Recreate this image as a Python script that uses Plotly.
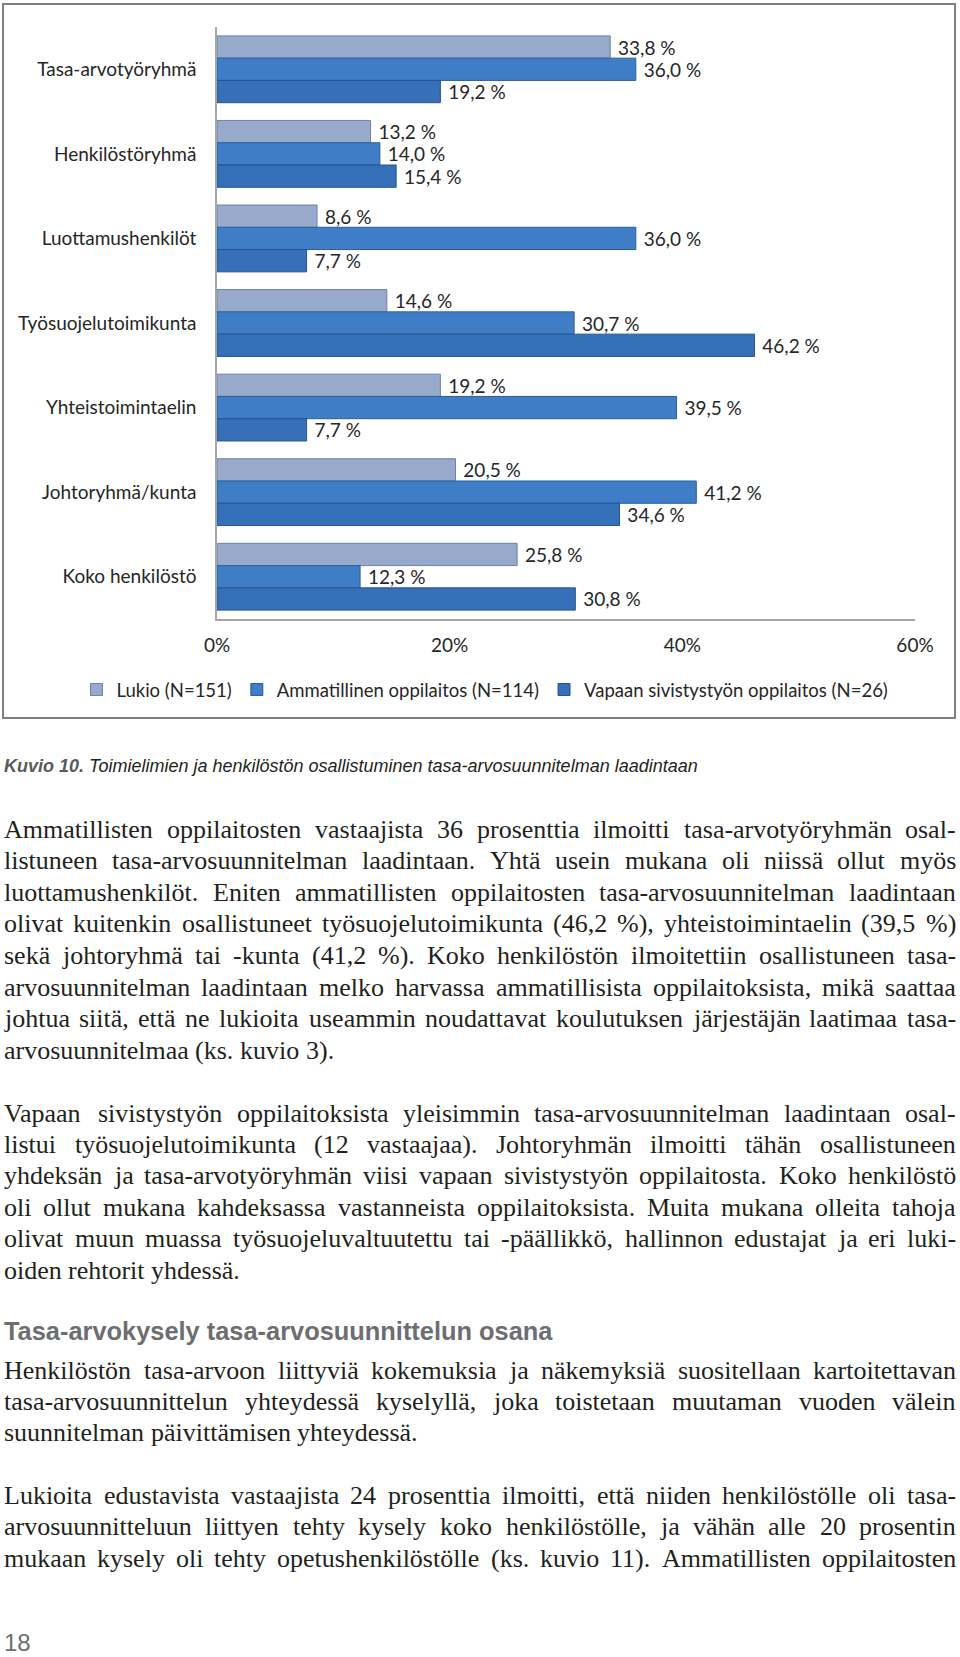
import plotly.graph_objects as go

W, H = 960, 1657

# ---------------- data ----------------
categories = ["Tasa-arvotyöryhmä", "Henkilöstöryhmä", "Luottamushenkilöt",
              "Työsuojelutoimikunta", "Yhteistoimintaelin", "Johtoryhmä/kunta",
              "Koko henkilöstö"]
lukio = [33.8, 13.2, 8.6, 14.6, 19.2, 20.5, 25.8]
ammatillinen = [36.0, 14.0, 36.0, 30.7, 39.5, 41.2, 12.3]
vapaa = [19.2, 15.4, 7.7, 46.2, 7.7, 34.6, 30.8]
series_names = ["Lukio (N=151)", "Ammatillinen oppilaitos (N=114)",
                "Vapaan sivistystyön oppilaitos (N=26)"]
x_tickvals = [0, 20, 40, 60]
x_ticktext = ["0%", "20%", "40%", "60%"]

caption_bold = "Kuvio 10."
caption_text = "Toimielimien ja henkilöstön osallistuminen tasa-arvosuunnitelman laadintaan"

para1 = [
    "Ammatillisten oppilaitosten vastaajista 36 prosenttia ilmoitti tasa-arvotyöryhmän osal-",
    "listuneen tasa-arvosuunnitelman laadintaan. Yhtä usein mukana oli niissä ollut myös",
    "luottamushenkilöt. Eniten ammatillisten oppilaitosten tasa-arvosuunnitelman laadintaan",
    "olivat kuitenkin osallistuneet työsuojelutoimikunta (46,2 %), yhteistoimintaelin (39,5 %)",
    "sekä johtoryhmä tai -kunta (41,2 %). Koko henkilöstön ilmoitettiin osallistuneen tasa-",
    "arvosuunnitelman laadintaan melko harvassa ammatillisista oppilaitoksista, mikä saattaa",
    "johtua siitä, että ne lukioita useammin noudattavat koulutuksen järjestäjän laatimaa tasa-",
    "arvosuunnitelmaa (ks. kuvio 3).",
]
para2 = [
    "Vapaan sivistystyön oppilaitoksista yleisimmin tasa-arvosuunnitelman laadintaan osal-",
    "listui työsuojelutoimikunta (12 vastaajaa). Johtoryhmän ilmoitti tähän osallistuneen",
    "yhdeksän ja tasa-arvotyöryhmän viisi vapaan sivistystyön oppilaitosta. Koko henkilöstö",
    "oli ollut mukana kahdeksassa vastanneista oppilaitoksista. Muita mukana olleita tahoja",
    "olivat muun muassa työsuojeluvaltuutettu tai -päällikkö, hallinnon edustajat ja eri luki-",
    "oiden rehtorit yhdessä.",
]
heading = "Tasa-arvokysely tasa-arvosuunnittelun osana"
para3 = [
    "Henkilöstön tasa-arvoon liittyviä kokemuksia ja näkemyksiä suositellaan kartoitettavan",
    "tasa-arvosuunnittelun yhteydessä kyselyllä, joka toistetaan muutaman vuoden välein",
    "suunnitelman päivittämisen yhteydessä.",
]
para4 = [
    "Lukioita edustavista vastaajista 24 prosenttia ilmoitti, että niiden henkilöstölle oli tasa-",
    "arvosuunnitteluun liittyen tehty kysely koko henkilöstölle, ja vähän alle 20 prosentin",
    "mukaan kysely oli tehty opetushenkilöstölle (ks. kuvio 11). Ammatillisten oppilaitosten",
]
page_number = "18"


def X(px):
    return px / W


def Y(py):
    return 1 - py / H


def fmt(v):
    return "\u00a0" + f"{v:.1f}".replace(".", ",") + "\u00a0%"


colors = ["#97aacc", "#3f7dc7", "#3570b8"]
line_colors = ["#6e81a8", "#2b5d9c", "#25538f"]
lab_font = "Lato, Carlito, Calibri, sans-serif"
LAB = 19

fig = go.Figure()
for name, vals, c, lc in zip(series_names, [lukio, ammatillinen, vapaa], colors, line_colors):
    fig.add_trace(go.Bar(
        y=categories, x=vals, name=name, orientation="h",
        marker=dict(color=c, line=dict(color=lc, width=1)),
        text=[fmt(v) for v in vals], textposition="outside",
        textfont=dict(family=lab_font, size=LAB, color="#262626"),
        constraintext="none", cliponaxis=False,
    ))

# ---------------- text block (justified lines) ----------------
TW = {' ': 250, '!': 333, '%': 833, '(': 333, ')': 333, ',': 250, '-': 333, '.': 250,
      '/': 278, ':': 278, ';': 278, '?': 444,
      'A': 722, 'B': 667, 'C': 667, 'D': 722, 'E': 611, 'F': 556, 'G': 722, 'H': 722,
      'I': 333, 'J': 389, 'K': 722, 'L': 611, 'M': 889, 'N': 722, 'O': 722, 'P': 556,
      'Q': 722, 'R': 667, 'S': 556, 'T': 611, 'U': 722, 'V': 722, 'W': 944, 'X': 722,
      'Y': 722, 'Z': 611,
      'a': 444, 'b': 500, 'c': 444, 'd': 500, 'e': 444, 'f': 333, 'g': 500, 'h': 500,
      'i': 278, 'j': 278, 'k': 500, 'l': 278, 'm': 778, 'n': 500, 'o': 500, 'p': 500,
      'q': 500, 'r': 333, 's': 389, 't': 278, 'u': 500, 'v': 500, 'w': 722, 'x': 500,
      'y': 500, 'z': 444, 'ä': 444, 'ö': 500, 'å': 444, 'Ä': 722, 'Ö': 722}
for d in "0123456789":
    TW[d] = 500

F = 26
LEFT, RIGHT = 3, 955
body_font = dict(family="Liberation Serif, Times New Roman, serif", size=F, color="#231f20")
annotations = []


def wwidth(s):
    return sum(TW.get(ch, 500) for ch in s) / 1000 * F


def add_line(text, ypx, justify):
    words = text.split(" ")
    nat = sum(wwidth(w) for w in words)
    if justify and len(words) > 1:
        gap = max((RIGHT - LEFT - nat) / (len(words) - 1), 0.15 * F)
    else:
        gap = 0.25 * F
    x = LEFT
    for w in words:
        annotations.append(dict(x=X(x), y=Y(ypx), xref="paper", yref="paper",
                                text=w, showarrow=False, xanchor="left", yanchor="middle",
                                borderpad=0, font=body_font))
        x += wwidth(w) + gap


def add_para(lines, y0, step, last_justified=False):
    for i, ln in enumerate(lines):
        last = i == len(lines) - 1
        add_line(ln, y0 + i * step, justify=(not last) or last_justified)


add_para(para1, 829, 31.6)
add_para(para2, 1113, 31.4)
add_para(para3, 1370, 31.2)
add_para(para4, 1495, 31.5, last_justified=True)

annotations.append(dict(
    x=X(3), y=Y(766), xref="paper", yref="paper", showarrow=False,
    xanchor="left", yanchor="middle", borderpad=0,
    text=f"<b><i><span style='color:#58595b'>{caption_bold}</span></i></b> <i>{caption_text}</i>",
    font=dict(family="Liberation Sans, Arial, sans-serif", size=18, color="#231f20")))
annotations.append(dict(
    x=X(3), y=Y(1331), xref="paper", yref="paper", showarrow=False,
    xanchor="left", yanchor="middle", borderpad=0, text=f"<b>{heading}</b>",
    font=dict(family="Liberation Sans, Arial, sans-serif", size=25.4, color="#6d6e71")))
annotations.append(dict(
    x=X(3), y=Y(1642), xref="paper", yref="paper", showarrow=False,
    xanchor="left", yanchor="middle", borderpad=0, text=page_number,
    font=dict(family="Liberation Sans, Arial, sans-serif", size=24, color="#6d6e71")))

fig.update_layout(
    width=W, height=H, autosize=False,
    margin=dict(l=0, r=0, t=0, b=0, pad=0, autoexpand=False),
    paper_bgcolor="white", plot_bgcolor="white",
    barmode="group", bargap=0.21, bargroupgap=0,
    showlegend=True,
    legend=dict(orientation="h", x=X(485), xanchor="center", y=Y(690), yanchor="middle",
                font=dict(family=lab_font, size=18.5, color="#262626"),
                bgcolor="rgba(0,0,0,0)", traceorder="normal"),
    xaxis=dict(domain=[X(217), X(915)], range=[0, 60], tickvals=x_tickvals,
               ticktext=x_ticktext, showgrid=False, zeroline=False, showline=True,
               linecolor="#a6a6a6", linewidth=1.5, ticks="", ticklabelstandoff=8,
               automargin=False,
               tickfont=dict(family=lab_font, size=LAB, color="#262626"), fixedrange=True),
    yaxis=dict(domain=[Y(619), Y(27)], type="category", autorange="reversed",
               showgrid=False, zeroline=False, showline=True, linecolor="#a6a6a6",
               linewidth=1.5, ticks="", ticklabelstandoff=15, automargin=False,
               tickfont=dict(family=lab_font, size=LAB, color="#262626"), fixedrange=True),
    shapes=[dict(type="rect", xref="paper", yref="paper", x0=X(3), x1=X(955),
                 y0=Y(718), y1=Y(4), line=dict(color="#7f7f7f", width=2),
                 fillcolor="white", layer="below")],
    annotations=annotations,
)

fig.write_html("out.html")
